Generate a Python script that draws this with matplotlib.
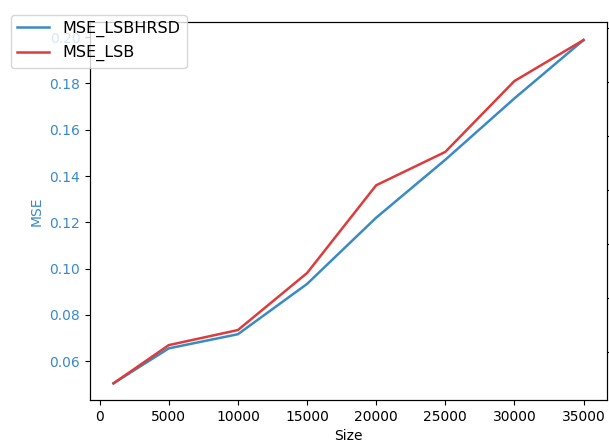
import numpy as np
import matplotlib.pyplot as plt

sizes = [1000, 5000, 10000, 15000, 20000, 25000, 30000, 35000]
mse_lsbhrsd = [0.0505, 0.0656, 0.0717, 0.0934, 0.1220, 0.1470, 0.1735, 0.1987]
mse_lsb = [0.0505, 0.0670, 0.0735, 0.0981, 0.1360, 0.1504, 0.1810, 0.1987]

fig = plt.figure(figsize=(6.09, 4.47), dpi=100)
ax1 = fig.add_axes([90 / 609, 47 / 447, 517 / 609, 378 / 447])

blue = "#3a8ac4"
red = "#dc3c3c"
ax1.plot(sizes, mse_lsbhrsd, color=blue, lw=1.8, label="MSE_LSBHRSD")
ax1.plot(sizes, mse_lsb, color=red, lw=1.8, label="MSE_LSB")
ax1.set_xlabel("Size")
ax1.set_ylabel("MSE", color=blue)
ax1.tick_params(axis="y", labelcolor=blue)
ax1.set_xticks(np.arange(0, 35001, 5000))
ax1.set_yticks(np.arange(0.06, 0.201, 0.02))
ax1.set_xlim(-700, 36700)
ax1.set_ylim(0.0433, 0.2065)

# twin axis on the right, only its ticks show in the picture
ax2 = ax1.twinx()
ax2.set_ylim(0.0422, 0.1822)
ax2.set_yticks(np.arange(0.06, 0.181, 0.02))
ax2.tick_params(axis="y", labelright=False)

fig.legend(loc="upper left", fontsize=11.5, bbox_to_anchor=(0.005, 0.985))

fig.savefig("out.png", dpi=100)
